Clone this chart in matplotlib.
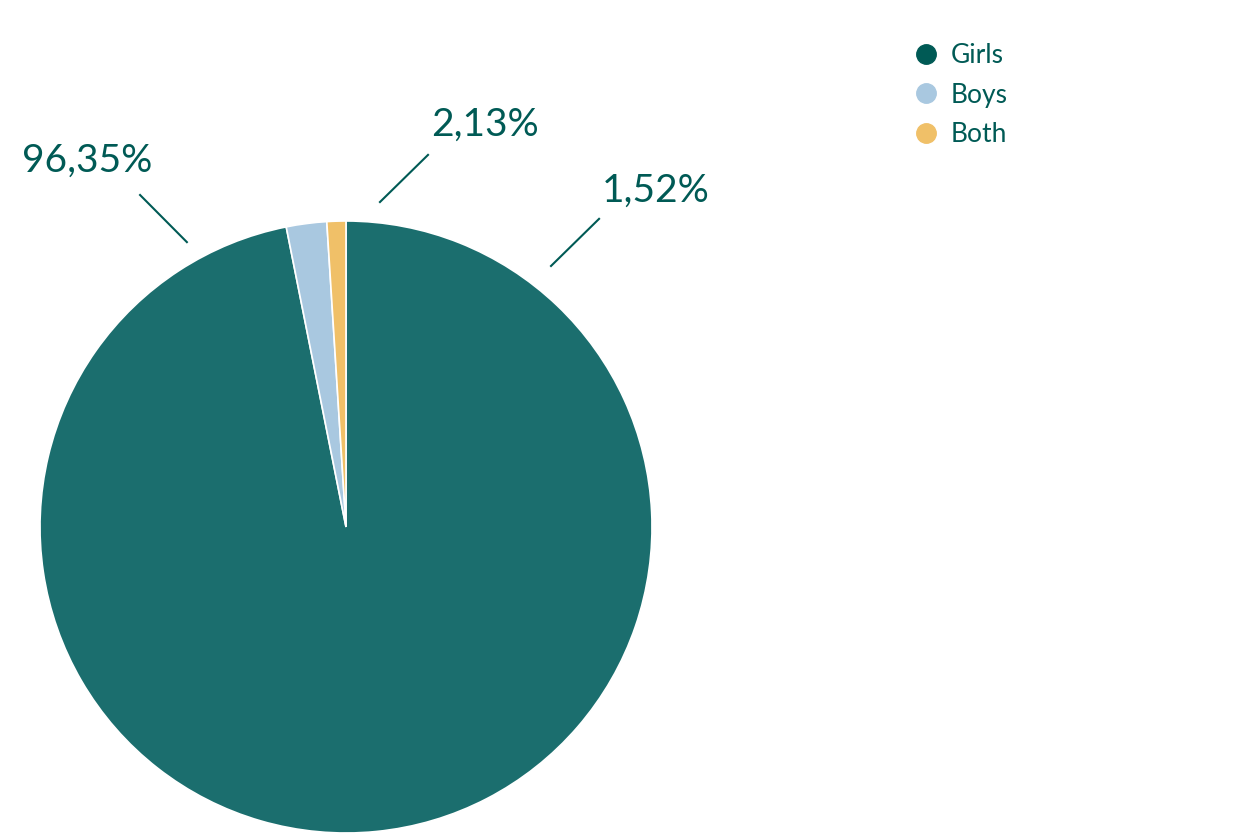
import matplotlib.pyplot as plt
from matplotlib.lines import Line2D

categories = ['Girls', 'Boys', 'Both']
# slice sizes as drawn in the picture
values = [96.87, 2.13, 1.0]
labels = ['96,35%', '2,13%', '1,52%']

colors = ['#1b6e6e', '#a9c8e0', '#f0c068']
legend_colors = ['#005a55', '#a9c8e0', '#f0c068']
text_color = '#005a55'

plt.rcParams['font.family'] = ['Lato', 'DejaVu Sans']

fig = plt.figure(figsize=(12.5, 8.33), dpi=100)
ax = fig.add_axes([0.032, 0.0, 0.4896, 0.7347])

ax.pie(values, colors=colors, startangle=90, counterclock=False,
       wedgeprops=dict(edgecolor='white', linewidth=1.2))
ax.set_xlim(-1, 1)
ax.set_ylim(-1, 1)
ax.set_aspect('equal')

# label positions (text xy, line start, line end) in data units
label_pos = [
    ((-0.846, 1.196), (-0.52, 0.931), (-0.673, 1.085)),
    ((0.454, 1.314), (0.111, 1.062), (0.268, 1.216)),
    ((1.013, 1.098), (0.670, 0.853), (0.827, 1.007)),
]
for lab, (txy, p0, p1) in zip(labels, label_pos):
    ax.plot([p0[0], p1[0]], [p0[1], p1[1]], color=text_color, lw=1.5, clip_on=False)
    ax.text(txy[0], txy[1], lab, ha='center', va='center', fontsize=28,
            color=text_color, clip_on=False)

handles = [Line2D([0], [0], marker='o', linestyle='', markersize=14,
                  markerfacecolor=c, markeredgecolor=c) for c in legend_colors]
leg = fig.legend(handles, categories, loc='upper left', bbox_to_anchor=(0.711, 0.977),
                 frameon=False, fontsize=19, handlelength=1.0, handletextpad=0.45,
                 labelspacing=0.56)
for t in leg.get_texts():
    t.set_color(text_color)

fig.savefig('out.png', dpi=100)
